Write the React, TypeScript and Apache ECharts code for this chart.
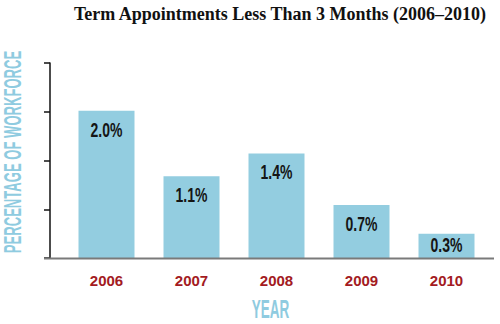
import React, { useEffect, useRef } from "react";
import * as echarts from "echarts";

const categories = ["2006", "2007", "2008", "2009", "2010"];
const values = [2.0, 1.11, 1.42, 0.72, 0.33];
const valueLabels = ["2.0%", "1.1%", "1.4%", "0.7%", "0.3%"];
const titleText = "Term Appointments Less Than 3 Months (2006–2010)";
const yAxisTitle = "PERCENTAGE OF WORKFORCE";
const xAxisTitle = "YEAR";

const BAR = "#93cde0";
const LIGHT = "#8fcbe0";
const RED = "#a31b22";
const SANS = "'Liberation Sans', Arial, sans-serif";

export default function App() {
  const ref = useRef<HTMLDivElement>(null);
  useEffect(() => {
    if (!ref.current) return;
    const chart = echarts.init(ref.current, null, { renderer: "svg" });
    chart.setOption({
      animation: false,
      backgroundColor: "#ffffff",
      title: {
        text: titleText,
        left: 275,
        textAlign: "center",
        top: 0,
        textStyle: {
          fontFamily: "'Liberation Serif', serif",
          fontWeight: "bold",
          fontSize: 18,
          color: "#111",
        },
      },
      grid: { left: 64, right: 11, top: 63, bottom: 66 },
      xAxis: {
        type: "category",
        data: categories,
        axisLine: { show: false },
        axisTick: { show: false },
        axisLabel: {
          color: RED,
          fontFamily: SANS,
          fontWeight: "bold",
          fontSize: 15,
          margin: 15,
        },
      },
      yAxis: {
        type: "value",
        min: 0,
        max: 2.65,
        interval: 0.6625,
        offset: 14,
        axisLine: { show: true, lineStyle: { color: "#111", width: 1.5 } },
        axisTick: { show: true, length: 6, lineStyle: { color: "#111", width: 1.5 } },
        axisLabel: { show: false },
        splitLine: { show: false },
      },
      graphic: [
        {
          type: "line",
          shape: { x1: 44, y1: 258.5, x2: 494, y2: 258.5 },
          style: { stroke: "#7a7a7a", lineWidth: 2 },
          z: 10,
        },
        {
          type: "text",
          x: 12.5,
          y: 152,
          rotation: Math.PI / 2,
          scaleX: 0.545,
          style: {
            text: yAxisTitle,
            fill: LIGHT,
            fontFamily: SANS,
            fontWeight: "bold",
            fontSize: 24,
            align: "center",
            verticalAlign: "middle",
          },
        },
        {
          type: "text",
          x: 270.5,
          y: 309,
          scaleX: 0.54,
          style: {
            text: xAxisTitle,
            fill: LIGHT,
            fontFamily: SANS,
            fontWeight: "bold",
            fontSize: 25,
            align: "center",
            verticalAlign: "middle",
          },
        },
      ],
      series: [
        {
          type: "bar",
          data: values,
          barWidth: 56,
          itemStyle: { color: BAR },
        },
        {
          type: "custom",
          data: values.map((v, i) => [i, v]),
          z: 5,
          renderItem: (params: any, api: any) => {
            const p = api.coord([api.value(0), api.value(1)]);
            const base = api.coord([api.value(0), 0]);
            const y = Math.min(p[1] + 19, (p[1] + base[1]) / 2 - 1);
            return {
              type: "text",
              x: p[0],
              y,
              scaleX: 0.7,
              style: {
                text: valueLabels[params.dataIndex],
                fill: "#151515",
                fontFamily: SANS,
                fontWeight: "bold",
                fontSize: 20,
                align: "center",
                verticalAlign: "middle",
              },
            };
          },
        },
      ],
    });
    return () => chart.dispose();
  }, []);
  return <div ref={ref} style={{ width: 500, height: 324, position: "absolute", left: 0, top: 0 }} />;
}
